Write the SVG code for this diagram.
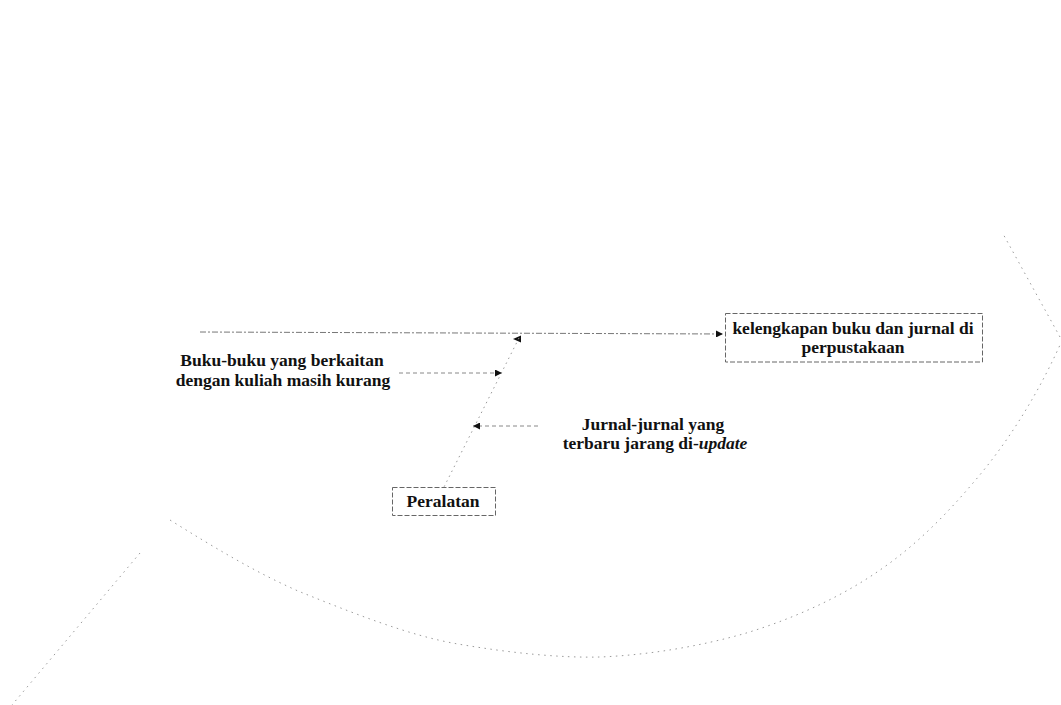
<svg xmlns="http://www.w3.org/2000/svg" width="1061" height="705" viewBox="0 0 1061 705">
  <style>
    .lbl { font-family: "Liberation Serif", "Times New Roman", serif; font-weight: bold; font-size: 17.5px; fill: #111; }
    .it { font-style: italic; }
    .box { fill: none; stroke: #666; stroke-width: 1; stroke-dasharray: 5 2; }
    .bone { fill: none; stroke: #777; stroke-width: 1; stroke-dasharray: 6 2 2 2; }
    .rib { fill: none; stroke: #888; stroke-width: 1; stroke-dasharray: 4 3; }
    .slant { fill: none; stroke: #999; stroke-width: 1; stroke-dasharray: 1.5 4; }
    .outline { fill: none; stroke: #9a9a9a; stroke-width: 1; stroke-dasharray: 1.5 4.5; }
  </style>
  <defs>
    <marker id="head" viewBox="0 0 10 10" refX="10" refY="5" markerWidth="7" markerHeight="7" orient="auto" markerUnits="userSpaceOnUse">
      <path d="M0,0 L10,5 L0,10 Z" fill="#111"/>
    </marker>
  </defs>

  <rect width="1061" height="705" fill="#fff"/>

  <!-- outer fish outline -->
  <g id="outline">
    <path class="outline" d="M170,520 C215,548 255,572 298,591 C350,612 410,636 458,644 C510,653 560,658 600,657 C650,655 700,646 743,634 C790,620 840,598 880,570 C915,546 945,516 973,483 C1005,446 1035,400 1060,345"/>
    <path class="outline" d="M1060,337 L1002,232"/>
    <path class="outline" d="M140,553 L12,705"/>
  </g>

  <!-- connectors -->
  <g id="connectors">
    <line class="bone" x1="200" y1="332" x2="723" y2="334" marker-end="url(#head)"/>
    <path d="M513,339 L521,335.5 L521,342.5 Z" fill="#111"/>
    <line class="slant" x1="519" y1="338" x2="444" y2="487"/>
    <line class="rib" x1="399" y1="373" x2="502" y2="373" marker-end="url(#head)"/>
    <line class="rib" x1="538" y1="426" x2="473" y2="426" marker-end="url(#head)"/>
  </g>

  <!-- effect -->
  <g id="node-effect">
    <rect class="box" x="725.5" y="313.5" width="257" height="48.5"/>
    <text class="lbl" text-anchor="middle" x="853" y="334">kelengkapan buku dan jurnal di</text>
    <text class="lbl" text-anchor="middle" x="853" y="353">perpustakaan</text>
  </g>

  <!-- cause category -->
  <g id="node-peralatan">
    <rect class="box" x="392.5" y="487.5" width="103" height="28"/>
    <text class="lbl" text-anchor="middle" x="443" y="507">Peralatan</text>
  </g>

  <g id="node-buku">
    <text class="lbl" text-anchor="middle" x="282" y="366">Buku-buku yang berkaitan</text>
    <text class="lbl" text-anchor="middle" x="283" y="386">dengan kuliah masih kurang</text>
  </g>

  <g id="node-jurnal">
    <text class="lbl" text-anchor="middle" x="653" y="430">Jurnal-jurnal yang</text>
    <text class="lbl" text-anchor="middle" x="655" y="449">terbaru jarang di-<tspan class="it">update</tspan></text>
  </g>
</svg>
